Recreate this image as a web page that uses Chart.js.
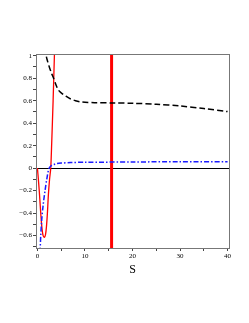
<!DOCTYPE html>
<html><head><meta charset="utf-8">
<script src="https://cdn.jsdelivr.net/npm/chart.js@4/dist/chart.umd.min.js"></script>
<style>html,body{margin:0;padding:0;background:#fff;}#w{width:249px;height:323px;}</style>
</head><body><div id="w"><canvas id="c"></canvas></div>
<script>
const blackS = [1.5,1.8,2,2.5,3,3.4,4,4.4,5,6,7,8,9,10,12,16,20,25,30,35,40];
const blackV = [1.07,1.01,0.97,0.9,0.84,0.8,0.73,0.695,0.67,0.64,0.615,0.6,0.59,0.586,0.582,0.58,0.577,0.568,0.553,0.53,0.503];
const redS = [0,0.2,0.4,0.6,0.8,1.0,1.2,1.45,1.7,1.9,2.1,2.3,2.55,2.8,3.0,3.3,3.57,3.8];
const redV = [0,-0.1,-0.21,-0.34,-0.46,-0.55,-0.6,-0.615,-0.59,-0.52,-0.4,-0.24,-0.1,0,0.22,0.6,1.0,1.3];
const blueS = [0.55,0.7,0.9,1.2,1.6,2.0,2.45,3.0,3.5,4,5,7,10,20,30,40];
const blueV = [-0.75,-0.6,-0.46,-0.33,-0.2,-0.09,0,0.025,0.033,0.04,0.045,0.05,0.052,0.055,0.057,0.058];
const vertS = [15.6,15.6];
const vertV = [-0.72,1.02];
const xTicks = [0,5,10,15,20,25,30,35,40];
const xLabels = [0,10,20,30,40];
const yTicks = [-0.7,-0.6,-0.5,-0.4,-0.3,-0.2,-0.1,0,0.1,0.2,0.3,0.4,0.5,0.6,0.7,0.8,0.9,1.0];
const yLabels = [-0.6,-0.4,-0.2,0,0.2,0.4,0.6,0.8,1];

const pts = (xs, ys) => xs.map((x,i)=>({x, y: ys[i]}));
const near = (a,b)=>Math.abs(a-b)<1e-6;
const fmt = v => (v<0?'\u2212':'') + String(Math.abs(Math.round(v*10)/10));

const boxPlugin = {
  id:'box',
  afterDraw(chart){
    const {ctx, chartArea:a} = chart;
    ctx.save();
    ctx.strokeStyle = '#777';
    ctx.lineWidth = 1;
    ctx.strokeRect(a.left+0.5, a.top+0.5, a.right-a.left, a.bottom-a.top);
    ctx.restore();
  }
};

new Chart(document.getElementById('c'), {
  type:'scatter',
  data:{datasets:[
    {data:pts(blackS,blackV), showLine:true, borderColor:'#000', borderWidth:1.5, borderDash:[6,3], pointRadius:0, tension:0.3},
    {data:pts(blueS,blueV), showLine:true, borderColor:'#1a1aff', borderWidth:1.5, borderDash:[5,2,1.5,2], pointRadius:0, tension:0.3},
    {data:pts(redS,redV), showLine:true, borderColor:'#ff0000', borderWidth:1.3, pointRadius:0, tension:0.3},
    {data:pts(vertS,vertV), showLine:true, borderColor:'#ff0000', borderWidth:3, pointRadius:0}
  ]},
  options:{
    responsive:true, maintainAspectRatio:false, animation:false,
    layout:{padding:{left:0,top:54,right:20,bottom:46}},
    plugins:{legend:{display:false}, tooltip:{enabled:false}},
    scales:{
      x:{type:'linear', min:-0.3, max:40.3,
        afterBuildTicks:s=>{s.ticks = xTicks.map(v=>({value:v}));},
        afterFit:s=>{s.height = 29;},
        ticks:{autoSkip:false, maxRotation:0, padding:1, color:'#000',
          font:{family:'Liberation Serif', size:7},
          callback:v=> xLabels.some(l=>near(l,v)) ? String(v) : ''},
        grid:{drawOnChartArea:false, tickLength:3, color:'#444'},
        border:{color:'#777'},
        title:{display:true, text:'S', color:'#000', padding:{top:0,bottom:0},
          font:{family:'Liberation Serif', size:12}}
      },
      y:{min:-0.71, max:1.015,
        afterBuildTicks:s=>{s.ticks = yTicks.map(v=>({value:v}));},
        afterFit:s=>{s.width = 36;},
        ticks:{autoSkip:false, padding:1, color:'#000',
          font:{family:'Liberation Serif', size:7},
          callback:v=> yLabels.some(l=>near(l,v)) ? fmt(v) : ''},
        grid:{drawOnChartArea:true, tickLength:3,
          color:c=> (c.tick && near(c.tick.value,0)) ? '#000' : 'rgba(0,0,0,0)',
          tickColor:'#444'},
        border:{color:'#777'}
      }
    }
  },
  plugins:[boxPlugin]
});
</script></body></html>
